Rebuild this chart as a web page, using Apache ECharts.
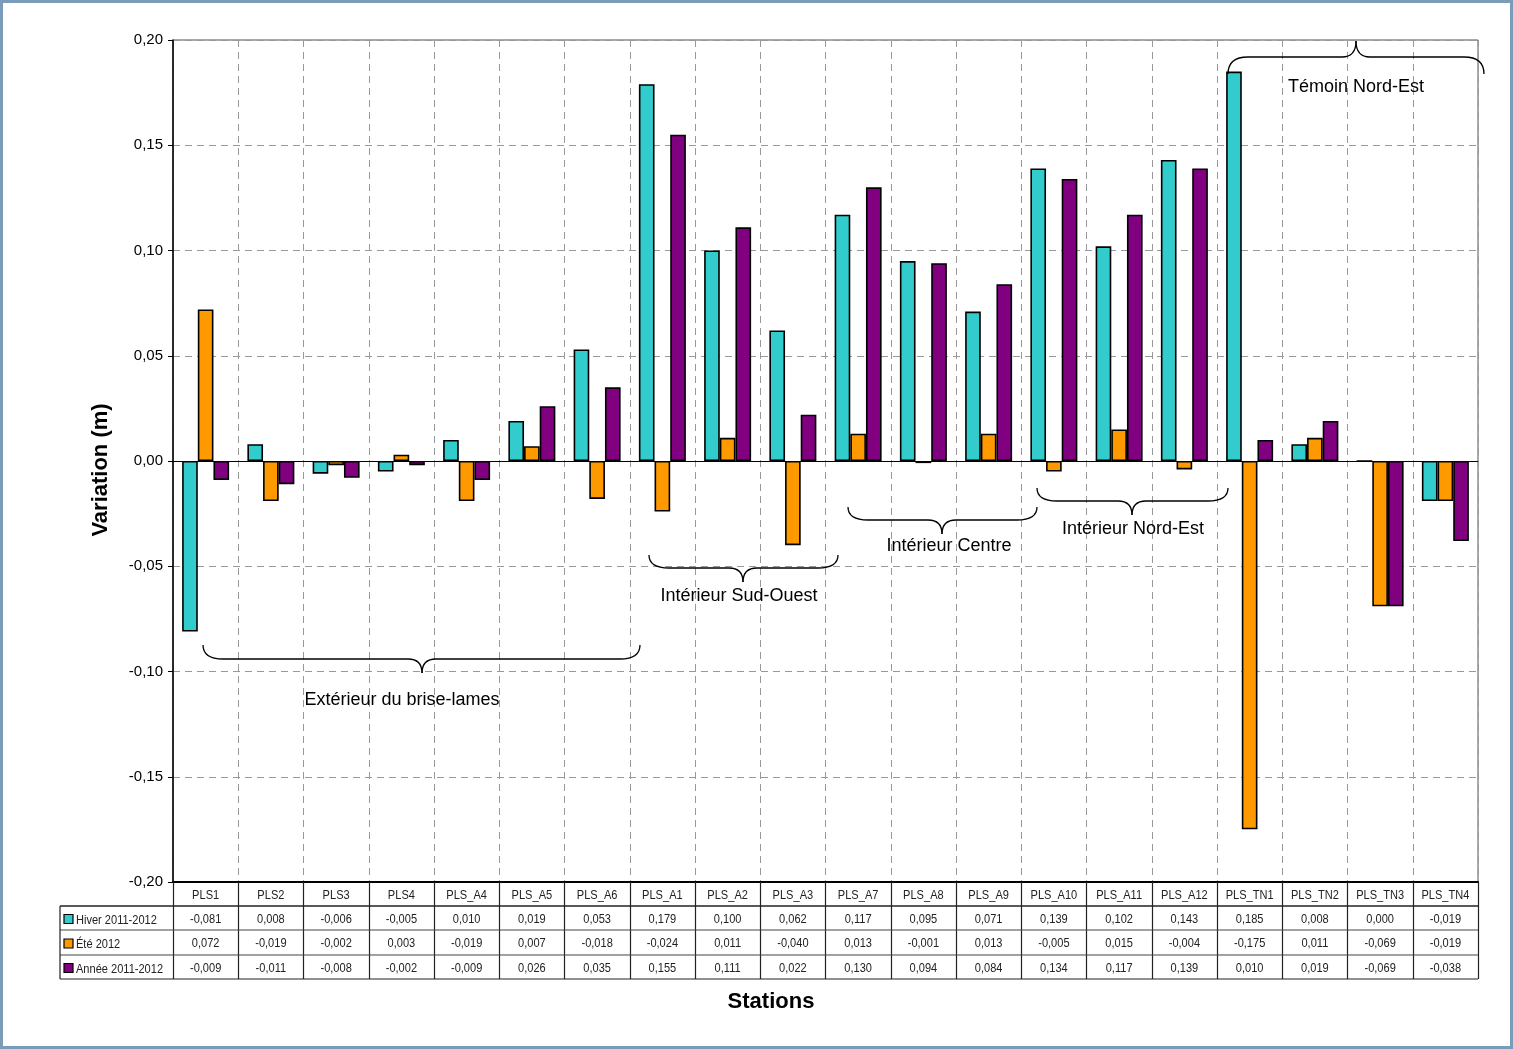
<!DOCTYPE html>
<html>
<head>
<meta charset="utf-8">
<script src="https://cdn.jsdelivr.net/npm/echarts@6/dist/echarts.min.js"></script>
<style>
  html, body { margin: 0; padding: 0; background: #fff; }
  #chart { width: 1513px; height: 1049px; }
</style>
</head>
<body>
<div id="chart"></div>
<script>
// Stations along the breakwater
var stations = ['PLS1', 'PLS2', 'PLS3', 'PLS4', 'PLS_A4', 'PLS_A5', 'PLS_A6', 'PLS_A1', 'PLS_A2', 'PLS_A3',
  'PLS_A7', 'PLS_A8', 'PLS_A9', 'PLS_A10', 'PLS_A11', 'PLS_A12', 'PLS_TN1', 'PLS_TN2', 'PLS_TN3', 'PLS_TN4'];

// Elevation variation (m) per period
var hiver = [-0.081, 0.008, -0.006, -0.005, 0.010, 0.019, 0.053, 0.179, 0.100, 0.062,
  0.117, 0.095, 0.071, 0.139, 0.102, 0.143, 0.185, 0.008, 0.000, -0.019];
var ete = [0.072, -0.019, -0.002, 0.003, -0.019, 0.007, -0.018, -0.024, 0.011, -0.040,
  0.013, -0.001, 0.013, -0.005, 0.015, -0.004, -0.175, 0.011, -0.069, -0.019];
var annee = [-0.009, -0.011, -0.008, -0.002, -0.009, 0.026, 0.035, 0.155, 0.111, 0.022,
  0.130, 0.094, 0.084, 0.134, 0.117, 0.139, 0.010, 0.019, -0.069, -0.038];

var seriesNames = ['Hiver 2011-2012', 'Été 2012', 'Année 2011-2012'];
var seriesColors = ['#33CCCC', '#FF9900', '#800080'];
var seriesData = [hiver, ete, annee];

// Y-axis range and step
var yMin = -0.20, yMax = 0.20, yStep = 0.05;

// Zone annotations: brace geometry (px) and label placement
var zones = [
  { label: 'Extérieur du brise-lames', yEndPx: 645, yMidPx: 659, yTipPx: 673, x1: 203, x2: 640, tipX: 422, textX: 402, textY: 700 },
  { label: 'Intérieur Sud-Ouest', yEndPx: 555, yMidPx: 568, yTipPx: 582, x1: 649, x2: 838, tipX: 743, textX: 739, textY: 596 },
  { label: 'Intérieur Centre', yEndPx: 507, yMidPx: 520, yTipPx: 534, x1: 848, x2: 1037, tipX: 942, textX: 949, textY: 546 },
  { label: 'Intérieur Nord-Est', yEndPx: 488, yMidPx: 501, yTipPx: 515, x1: 1037, x2: 1228, tipX: 1132, textX: 1133, textY: 529 },
  { label: 'Témoin Nord-Est', yEndPx: 74, yMidPx: 57, yTipPx: 41, x1: 1228, x2: 1484, tipX: 1356, textX: 1356, textY: 87 }
];

function fmt(v, d) {
  return v.toFixed(d).replace('.', ',');
}

var GRID = { left: 173, top: 40, width: 1305, height: 842 };
var baseFont = 'Liberation Sans, Arial, sans-serif';
var narrow = 0.85; // horizontal squeeze for table text

var chart = echarts.init(document.getElementById('chart'), null, { renderer: 'canvas' });

var series = seriesNames.map(function (name, i) {
  var s = {
    name: name,
    type: 'bar',
    data: seriesData[i],
    barGap: '0%',
    barCategoryGap: '28%',
    itemStyle: { color: seriesColors[i], borderColor: '#000', borderWidth: 1.6 },
    z: 3
  };
  if (i === 0) {
    s.markLine = {
      silent: true,
      symbol: 'none',
      label: { show: false },
      lineStyle: { color: '#000', type: 'solid', width: 1.2 },
      data: [{ yAxis: 0 }],
      z: 4
    };
  }
  return s;
});

chart.setOption({
  animation: false,
  backgroundColor: '#fff',
  grid: {
    left: GRID.left, top: GRID.top, width: GRID.width, height: GRID.height,
    show: true, borderColor: '#555', borderWidth: 1, backgroundColor: 'transparent'
  },
  xAxis: {
    type: 'category',
    data: stations,
    position: 'bottom',
    boundaryGap: true,
    axisLine: { onZero: false, lineStyle: { color: '#000', width: 2 } },
    axisTick: { show: true, interval: 0, length: 97, lineStyle: { color: '#222', width: 1.2 }, alignWithLabel: false },
    axisLabel: { show: false, interval: 0 },
    splitLine: { show: true, interval: 0, lineStyle: { color: '#999', type: [7, 5], width: 1 } }
  },
  yAxis: {
    type: 'value',
    min: yMin, max: yMax, interval: yStep,
    axisLine: { show: true, lineStyle: { color: '#000', width: 1.5 } },
    axisTick: { show: true, length: 5, lineStyle: { color: '#000' } },
    axisLabel: {
      fontSize: 15, color: '#000', margin: 10, fontFamily: baseFont,
      formatter: function (v) { return fmt(v, 2); }
    },
    splitLine: { show: true, lineStyle: { color: '#999', type: [7, 5], width: 1 } }
  },
  series: series
});

// Brace drawn from quadratic curves and straight segments
function braceParts(z) {
  var x1 = z.x1, x2 = z.x2, xt = z.tipX;
  var ye = z.yEndPx, ym = z.yMidPx, yt = z.yTipPx;
  var r = 20, rt = 14;
  var st = { stroke: '#000', lineWidth: 1.3, fill: null };
  return [
    { type: 'bezierCurve', z: 8, shape: { x1: x1, y1: ye, cpx1: x1, cpy1: ym, x2: x1 + r, y2: ym }, style: st },
    { type: 'line', z: 8, shape: { x1: x1 + r, y1: ym, x2: xt - rt, y2: ym }, style: st },
    { type: 'bezierCurve', z: 8, shape: { x1: xt - rt, y1: ym, cpx1: xt, cpy1: ym, x2: xt, y2: yt }, style: st },
    { type: 'bezierCurve', z: 8, shape: { x1: xt, y1: yt, cpx1: xt, cpy1: ym, x2: xt + rt, y2: ym }, style: st },
    { type: 'line', z: 8, shape: { x1: xt + rt, y1: ym, x2: x2 - r, y2: ym }, style: st },
    { type: 'bezierCurve', z: 8, shape: { x1: x2 - r, y1: ym, cpx1: x2, cpy1: ym, x2: x2, y2: ye }, style: st }
  ];
}

function cellText(x, y, text, align) {
  return {
    type: 'text', z: 11, x: x, y: y, scaleX: narrow,
    style: { text: text, fontSize: 13, fontFamily: baseFont, fill: '#222', align: align || 'center', verticalAlign: 'middle' }
  };
}

var g = [];
var tableTop = GRID.top + GRID.height; // 882
var rowH = [24, 24, 25, 24];
var rowY = [tableTop];
for (var r = 0; r < rowH.length; r++) rowY.push(rowY[r] + rowH[r]);
var tableLeft = 60, tableRight = GRID.left + GRID.width;

// horizontal table rules
for (var k = 1; k < rowY.length; k++) {
  g.push({
    type: 'line', z: 10,
    shape: { x1: tableLeft, y1: rowY[k], x2: tableRight, y2: rowY[k] },
    style: { stroke: k === 1 || k === rowY.length - 1 ? '#222' : '#444', lineWidth: k === 1 ? 1.5 : 1.2 }
  });
}
// left edge of legend column
g.push({
  type: 'line', z: 10,
  shape: { x1: tableLeft, y1: rowY[1], x2: tableLeft, y2: rowY[rowY.length - 1] },
  style: { stroke: '#222', lineWidth: 1.2 }
});

// header row: station names
stations.forEach(function (name) {
  var px = chart.convertToPixel({ xAxisIndex: 0 }, name);
  g.push(cellText(px, (rowY[0] + rowY[1]) / 2 + 1, name));
});

// legend keys + values
seriesNames.forEach(function (name, i) {
  var cy = (rowY[i + 1] + rowY[i + 2]) / 2 + 1;
  g.push({
    type: 'rect', z: 11,
    shape: { x: 64, y: cy - 4.5, width: 9, height: 9 },
    style: { fill: seriesColors[i], stroke: '#000', lineWidth: 1.2 }
  });
  g.push(cellText(76, cy + 1, name, 'left'));
  seriesData[i].forEach(function (v, j) {
    var px = chart.convertToPixel({ xAxisIndex: 0 }, stations[j]);
    g.push(cellText(px, cy, fmt(v, 3)));
  });
});

// zone braces and labels
zones.forEach(function (z) {
  braceParts(z).forEach(function (p) { g.push(p); });
  g.push({
    type: 'text', z: 9, x: z.textX, y: z.textY,
    style: { text: z.label, fontSize: 18, fontFamily: baseFont, fill: '#000', align: 'center', verticalAlign: 'middle' }
  });
});

// axis titles
g.push({
  type: 'text', z: 11, x: 101, y: 470, rotation: Math.PI / 2,
  style: { text: 'Variation (m)', fontSize: 22, fontWeight: 'bold', fontFamily: baseFont, fill: '#000', align: 'center', verticalAlign: 'middle' }
});
g.push({
  type: 'text', z: 11, x: 771, y: 1002,
  style: { text: 'Stations', fontSize: 22, fontWeight: 'bold', fontFamily: baseFont, fill: '#000', align: 'center', verticalAlign: 'middle' }
});

// outer frame
g.push({
  type: 'rect', z: 20,
  shape: { x: 1.5, y: 1.5, width: 1510, height: 1046 },
  style: { fill: null, stroke: '#7A9CB8', lineWidth: 3 }
});

chart.setOption({ graphic: g });
</script>
</body>
</html>
